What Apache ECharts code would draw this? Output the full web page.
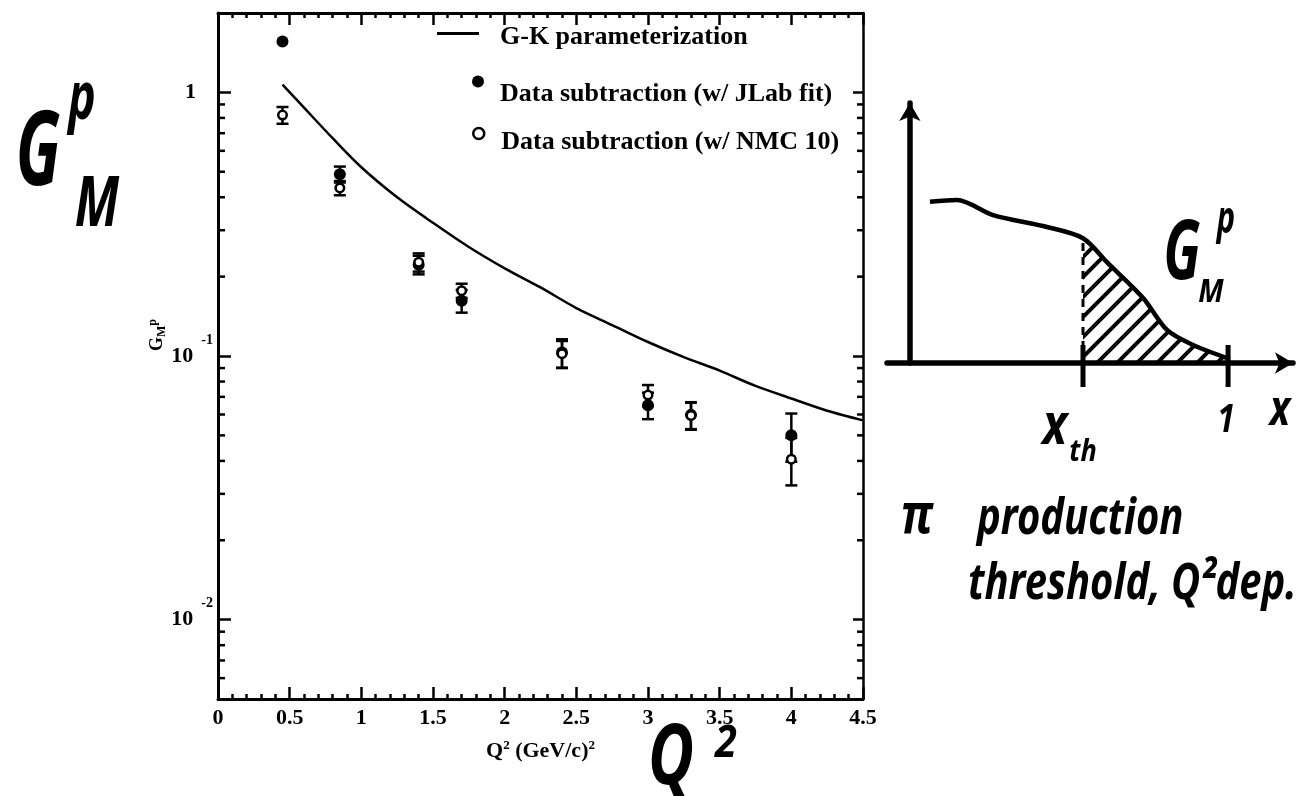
<!DOCTYPE html>
<html><head><meta charset="utf-8">
<script src="https://cdn.jsdelivr.net/npm/echarts@6/dist/echarts.min.js"></script>
<style>html,body{margin:0;padding:0;background:#fff}#c{width:1304px;height:796px}</style>
</head><body><div id="c"></div>
<script>
// ---- main plot data ----
const q2 = [0.45, 0.85, 1.4, 1.7, 2.4, 3.0, 3.3, 4.0];
const jlabVal = [1.56, 0.489, 0.222, 0.162, 0.103, 0.0651, 0.0598, 0.0501];
const jlabErr = [0, 0.034, 0.018, 0.016, 0.0127, 0.0075, 0.007, 0.0104];
const nmcVal = [0.82, 0.434, 0.227, 0.177, 0.102, 0.0711, 0.0595, 0.0406];
const nmcErr = [0.06, 0.027, 0.018, 0.011, 0.012, 0.0065, 0.007, 0.0083];
const gkQ2 = [0.45, 0.6, 0.8, 1.0, 1.25, 1.5, 1.75, 2.0, 2.25, 2.5, 2.75, 3.0, 3.25, 3.5, 3.75, 4.0, 4.25, 4.5];
const gkVal = [1.07, 0.875, 0.67, 0.52, 0.40, 0.32, 0.259, 0.215, 0.182, 0.152, 0.131, 0.113, 0.099, 0.088, 0.077, 0.069, 0.062, 0.057];
const yMin = 0.005, yMax = 2;
const xMin = 0, xMax = 4.5, xStep = 0.5;
const legendNames = ['G-K parameterization', 'Data subtraction (w/ JLab fit)', 'Data subtraction (w/ NMC 10)'];

// ---- sketch data ----
const sketchX = [0.063, 0.148, 0.261, 0.431, 0.544, 0.619, 0.733, 0.808, 0.890, 0.997];
const sketchY = [0.620, 0.627, 0.569, 0.523, 0.480, 0.388, 0.250, 0.127, 0.069, 0.019];
const xThreshold = 0.544;
const sketchTicks = [0.544, 1.0];

// minor log ticks
const minorVals = [];
for (let e = -3; e <= 0; e++) for (let m = 2; m <= 9; m++) {
  const v = m * Math.pow(10, e);
  if (v > yMin * 1.0001 && v < yMax * 0.9999) minorVals.push(v);
}

const FONT = '"Liberation Serif", "Times New Roman", serif';
const HW = '"Noto Sans", "DejaVu Sans", sans-serif';

// hatch pattern
const pat = document.createElement('canvas');
pat.width = 20; pat.height = 20;
(function(){
  const c = pat.getContext('2d');
  c.strokeStyle = '#000'; c.lineWidth = 4; c.lineCap = 'butt';
  c.beginPath();
  c.moveTo(-5, 25); c.lineTo(25, -5);
  c.moveTo(-5, 5); c.lineTo(5, -5);
  c.moveTo(15, 25); c.lineTo(25, 15);
  c.stroke();
})();

function errRender(params, api) {
  const x = api.value(0), lo = api.value(1), hi = api.value(2);
  if (!(hi > lo)) return null;
  const p1 = api.coord([x, hi]), p2 = api.coord([x, lo]);
  const w = 6, st = {stroke: '#000', lineWidth: 2.5};
  return {type: 'group', children: [
    {type: 'line', shape: {x1: p1[0], y1: p1[1], x2: p2[0], y2: p2[1]}, style: st},
    {type: 'line', shape: {x1: p1[0] - w, y1: p1[1], x2: p1[0] + w, y2: p1[1]}, style: st},
    {type: 'line', shape: {x1: p2[0] - w, y1: p2[1], x2: p2[0] + w, y2: p2[1]}, style: st}
  ]};
}

function hw(text, x, y, size, sx, extra) {
  return Object.assign({type: 'text', x: x, y: y, scaleX: sx || 1, z: 100,
    style: {text: text, fill: '#000', font: 'italic bold ' + size + 'px ' + HW, textAlign: 'center', textVerticalAlign: 'middle'}}, extra || {});
}

const yLabelFmt = function (v) {
  const l = Math.log10(v), e = Math.round(l);
  if (Math.abs(l - e) > 1e-6) return '';
  if (e === 0) return '{one|1}';
  return '{b|10}{sup|' + e + '}';
};

// legend text: an empty spacer line above the name drops the name below the icon centre
function legendText(spacer, padLeft) {
  return {
    formatter: function (name) { return '{e| }\n{t|' + name + '}'; },
    textStyle: {padding: [0, 0, 0, padLeft], rich: {
      e: {fontSize: 1, lineHeight: spacer},
      t: {fontFamily: FONT, fontWeight: 'bold', fontSize: 26, color: '#000', lineHeight: 30}
    }}
  };
}

const chart = echarts.init(document.getElementById('c'), null, {renderer: 'canvas'});
const option = {
  animation: false,
  backgroundColor: '#fff',
  grid: [
    {left: 218, right: 441, top: 13, bottom: 97, outerBoundsMode: 'none', containLabel: false},
    {left: 887, right: 11, top: 103, bottom: 433, outerBoundsMode: 'none', containLabel: false}
  ],
  legend: [
    Object.assign({data: [legendNames[0]], left: 437, top: 18, itemWidth: 42, itemHeight: 3, padding: 0, itemGap: 0,
      icon: 'rect', itemStyle: {color: '#000'}}, legendText(8, 16)),
    Object.assign({data: [legendNames[1]], left: 472, top: 66, itemWidth: 12, itemHeight: 12, padding: 0,
      icon: 'circle'}, legendText(26, 11)),
    Object.assign({data: [legendNames[2]], left: 472, top: 118, itemWidth: 11, itemHeight: 11, padding: 0,
      icon: 'circle', itemStyle: {borderWidth: 2.5, borderColor: '#000', color: '#fff'}}, legendText(18, 12))
  ],
  xAxis: [
    {type: 'value', gridIndex: 0, min: xMin, max: xMax, interval: xStep, position: 'bottom',
      axisLine: {onZero: false, lineStyle: {color: '#000', width: 3}},
      axisTick: {inside: true, length: 12, lineStyle: {color: '#000', width: 2.5}},
      minorTick: {show: true, splitNumber: 5, length: 5, lineStyle: {color: '#000', width: 2.5}},
      splitLine: {show: false},
      axisLabel: {margin: 8, fontFamily: FONT, fontWeight: 'bold', fontSize: 22, color: '#000'},
      name: '{t|Q}{s|2}{t| (GeV/c)}{s|2}', nameLocation: 'middle', nameGap: 40,
      nameTextStyle: {rich: {
        t: {fontFamily: FONT, fontWeight: 'bold', fontSize: 22, color: '#000'},
        s: {fontFamily: FONT, fontWeight: 'bold', fontSize: 13, color: '#000', padding: [0, 0, 12, 0]}
      }}},
    {type: 'value', gridIndex: 0, min: xMin, max: xMax, interval: xStep, position: 'top',
      axisLine: {onZero: false, lineStyle: {color: '#000', width: 3}},
      axisTick: {inside: true, length: 12, lineStyle: {color: '#000', width: 2.5}},
      minorTick: {show: true, splitNumber: 5, length: 5, lineStyle: {color: '#000', width: 2.5}},
      splitLine: {show: false}, axisLabel: {show: false}},
    {type: 'value', gridIndex: 1, min: -0.072, max: 1.204,
      axisLine: {onZero: true, symbol: ['none', 'arrow'], symbolSize: [16, 18], lineStyle: {color: '#000', width: 5.5}},
      axisTick: {show: false}, axisLabel: {show: false}, splitLine: {show: false}}
  ],
  yAxis: [
    {type: 'log', gridIndex: 0, min: yMin, max: yMax, logBase: 10, position: 'left',
      axisLine: {onZero: false, lineStyle: {color: '#000', width: 3}},
      axisTick: {inside: true, length: 13, lineStyle: {color: '#000', width: 2.5}},
      minorTick: {show: false}, splitLine: {show: false},
      axisLabel: {margin: 5, formatter: yLabelFmt, rich: {
        one: {fontFamily: FONT, fontWeight: 'bold', fontSize: 22, color: '#000', padding: [0, 17, 0, 0]},
        b: {fontFamily: FONT, fontWeight: 'bold', fontSize: 22, color: '#000', verticalAlign: 'middle'},
        sup: {fontFamily: FONT, fontWeight: 'bold', fontSize: 14, color: '#000', padding: [0, 0, 32, 8]}
      }},
      name: '{g|G}{sub|M}{sup|p}', nameLocation: 'middle', nameRotate: 90, nameGap: 47,
      nameTextStyle: {rich: {
        g: {fontFamily: FONT, fontWeight: 'bold', fontSize: 18, color: '#000', padding: [0, 0, 0, 42]},
        sub: {fontFamily: FONT, fontWeight: 'bold', fontSize: 12, color: '#000', padding: [8, 0, 0, 0]},
        sup: {fontFamily: FONT, fontWeight: 'bold', fontSize: 12, color: '#000', padding: [0, 0, 10, 0]}
      }}},
    {type: 'log', gridIndex: 0, min: yMin, max: yMax, logBase: 10, position: 'right',
      axisLine: {onZero: false, lineStyle: {color: '#000', width: 2.5}},
      axisTick: {inside: true, length: 10, lineStyle: {color: '#000', width: 2.5}},
      splitLine: {show: false}, axisLabel: {show: false}},
    {type: 'value', gridIndex: 1, min: 0, max: 1,
      axisLine: {onZero: true, symbol: ['none', 'arrow'], symbolSize: [16, 18], lineStyle: {color: '#000', width: 5.5}},
      axisTick: {show: false}, axisLabel: {show: false}, splitLine: {show: false}}
  ],
  series: [
    {name: legendNames[0], type: 'line', xAxisIndex: 0, yAxisIndex: 0, symbol: 'none', smooth: 0.3,
      lineStyle: {color: '#000', width: 2.5}, itemStyle: {color: '#000'},
      data: gkQ2.map((x, i) => [x, gkVal[i]])},
    {type: 'custom', xAxisIndex: 0, yAxisIndex: 0, renderItem: errRender, encode: {x: 0, y: [1, 2]},
      data: q2.map((x, i) => [x, jlabVal[i] - jlabErr[i], jlabVal[i] + jlabErr[i]]), z: 3},
    {type: 'custom', xAxisIndex: 0, yAxisIndex: 0, renderItem: errRender, encode: {x: 0, y: [1, 2]},
      data: q2.map((x, i) => [x, nmcVal[i] - nmcErr[i], nmcVal[i] + nmcErr[i]]), z: 3},
    {name: legendNames[1], type: 'scatter', xAxisIndex: 0, yAxisIndex: 0, symbol: 'circle', symbolSize: 12,
      itemStyle: {color: '#000', opacity: 1}, z: 4,
      data: q2.map((x, i) => [x, jlabVal[i]])},
    {name: legendNames[2], type: 'scatter', xAxisIndex: 0, yAxisIndex: 0, symbol: 'circle', symbolSize: 8.5,
      itemStyle: {color: '#fff', borderColor: '#000', borderWidth: 2.5, opacity: 1}, z: 5,
      data: q2.map((x, i) => [x, nmcVal[i]])},
    {type: 'custom', xAxisIndex: 0, yAxisIndex: 0, clip: false, silent: true, encode: {x: 0, y: 1},
      data: minorVals.map(v => [xMin, v]),
      renderItem: function (params, api) {
        const v = api.value(1);
        const l = api.coord([xMin, v]), r = api.coord([xMax, v]);
        const st = {stroke: '#000', lineWidth: 2.5};
        return {type: 'group', children: [
          {type: 'line', shape: {x1: l[0], y1: l[1], x2: l[0] + 7, y2: l[1]}, style: st},
          {type: 'line', shape: {x1: r[0], y1: r[1], x2: r[0] - 6, y2: r[1]}, style: st}
        ]};
      }},
    // sketch
    {type: 'line', xAxisIndex: 2, yAxisIndex: 2, symbol: 'none', smooth: 0.3, silent: true,
      lineStyle: {width: 0}, areaStyle: {color: {image: pat, repeat: 'repeat'}, opacity: 1},
      data: sketchX.map((x, i) => [x, sketchY[i]]).filter(p => p[0] >= xThreshold)},
    {type: 'line', xAxisIndex: 2, yAxisIndex: 2, symbol: 'none', smooth: 0.3, silent: true,
      lineStyle: {color: '#000', width: 4.5},
      data: sketchX.map((x, i) => [x, sketchY[i]])},
    {type: 'line', xAxisIndex: 2, yAxisIndex: 2, symbol: 'none', silent: true,
      lineStyle: {color: '#000', width: 3, type: [8, 6]},
      data: [[xThreshold, 0], [xThreshold, sketchY[sketchX.indexOf(xThreshold)]]]},
    {type: 'custom', xAxisIndex: 2, yAxisIndex: 2, clip: false, silent: true, encode: {x: 0, y: 1},
      data: sketchTicks.map(x => [x, 0]),
      renderItem: function (params, api) {
        const p = api.coord([api.value(0), 0]);
        return {type: 'line', shape: {x1: p[0], y1: p[1] - 18, x2: p[0], y2: p[1] + 24},
          style: {stroke: '#000', lineWidth: 5}};
      }}
  ],
  graphic: [
    hw('G', 38, 155, 104, 0.62),
    hw('p', 82, 100, 66, 0.7),
    hw('M', 97, 206, 70, 0.72),
    hw('Q', 671, 760, 84, 0.75),
    hw('2', 726, 744, 44, 0.9),
    hw('G', 1182, 256, 82, 0.65),
    hw('p', 1226, 220, 44, 0.7),
    hw('M', 1211, 293, 32, 0.9),
    hw('x', 1055, 427, 58, 0.8),
    hw('th', 1083, 452, 30, 0.9),
    hw('1', 1226, 421, 40, 0.8),
    hw('x', 1280, 411, 48, 0.8),
    hw('π', 917, 517, 56, 0.8),
    {type: 'text', x: 977, y: 520, scaleX: 0.8, z: 100,
      style: {text: 'production', fill: '#000', font: 'italic bold 50px ' + HW, textAlign: 'left', textVerticalAlign: 'middle'}},
    {type: 'text', x: 968, y: 585, scaleX: 0.8, z: 100,
      style: {text: 'threshold, Q²dep.', fill: '#000', font: 'italic bold 50px ' + HW, textAlign: 'left', textVerticalAlign: 'middle'}}
  ]
};
chart.setOption(option);
</script>
</body></html>
